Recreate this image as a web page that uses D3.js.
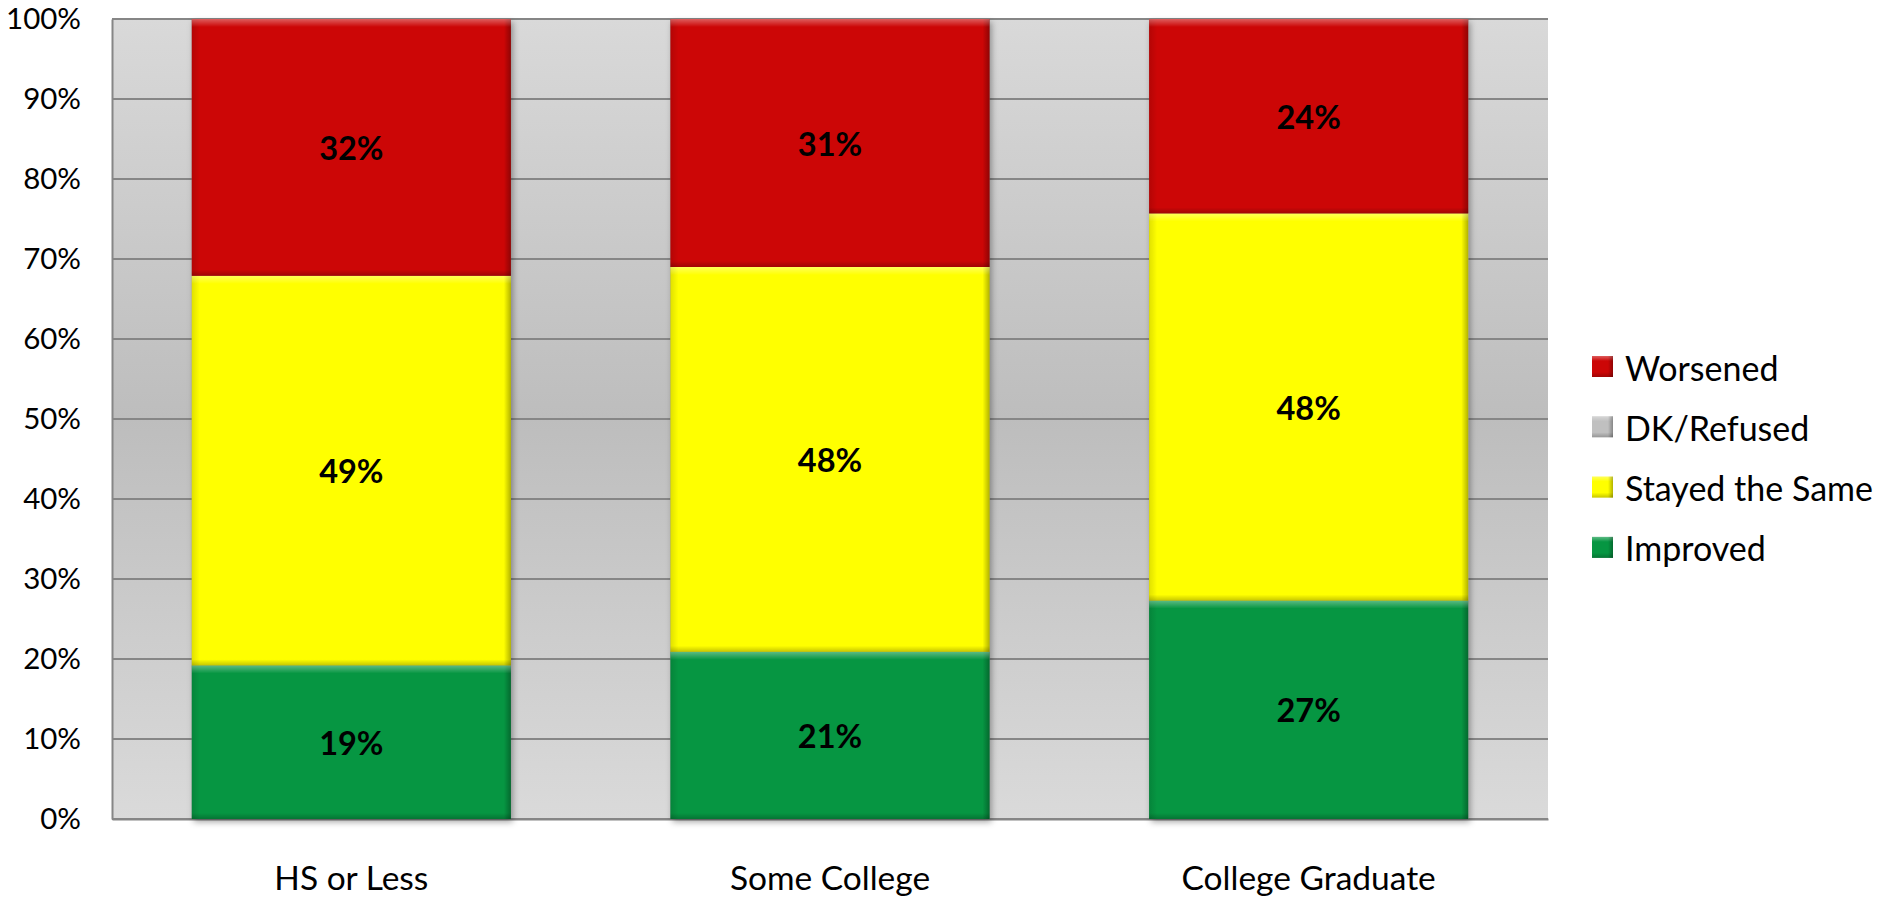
<!DOCTYPE html>
<html><head><meta charset="utf-8">
<script src="https://cdn.jsdelivr.net/npm/d3@7"></script>
<style>html,body{margin:0;padding:0;background:#fff;}svg{display:block;font-family:"Lato","Liberation Sans",sans-serif;}</style>
</head><body>
<svg id="chart" width="1879" height="898"></svg>
<script>
const categories = ["HS or Less", "Some College", "College Graduate"];
const seriesNames = ["Improved", "DK/Refused", "Stayed the Same", "Worsened"];
const improved = [19.2, 20.9, 27.3];
const dkRefused = [0, 0, 0];
const stayed = [48.7, 48.1, 48.4];
const worsened = [32.1, 31.0, 24.3];
const yTicks = [0, 10, 20, 30, 40, 50, 60, 70, 80, 90, 100];
const legendOrder = ["Worsened", "DK/Refused", "Stayed the Same", "Improved"];
const colors = {"Improved": "#069642", "DK/Refused": "#c0c0c0", "Stayed the Same": "#ffff00", "Worsened": "#cc0606"};

const rows = categories.map((c, i) => ({
  cat: c, "Improved": improved[i], "DK/Refused": dkRefused[i],
  "Stayed the Same": stayed[i], "Worsened": worsened[i]
}));

const svg = d3.select("#chart");
const m = {left: 112, top: 19, right: 1548, bottom: 819};
const x = d3.scaleBand().domain(categories).range([m.left, m.right]).paddingInner(1/3).paddingOuter(1/6);
const y = d3.scaleLinear().domain([0, 100]).range([m.bottom, m.top]);

const defs = svg.append("defs");
const bg = defs.append("linearGradient").attr("id", "bg").attr("x1", 0).attr("y1", 0).attr("x2", 0).attr("y2", 1);
bg.append("stop").attr("offset", "0%").attr("stop-color", "#d9d9d9");
bg.append("stop").attr("offset", "50%").attr("stop-color", "#bdbdbd");
bg.append("stop").attr("offset", "100%").attr("stop-color", "#dadada");

const gTop = defs.append("linearGradient").attr("id", "bTop").attr("x1", 0).attr("y1", 0).attr("x2", 0).attr("y2", 1);
gTop.append("stop").attr("offset", "0%").attr("stop-color", "#fff").attr("stop-opacity", 0.35);
gTop.append("stop").attr("offset", "100%").attr("stop-color", "#fff").attr("stop-opacity", 0);
const gRight = defs.append("linearGradient").attr("id", "bRight").attr("x1", 0).attr("y1", 0).attr("x2", 1).attr("y2", 0);
gRight.append("stop").attr("offset", "0%").attr("stop-color", "#000").attr("stop-opacity", 0);
gRight.append("stop").attr("offset", "100%").attr("stop-color", "#000").attr("stop-opacity", 0.3);
const gLeft = defs.append("linearGradient").attr("id", "bLeft").attr("x1", 0).attr("y1", 0).attr("x2", 1).attr("y2", 0);
gLeft.append("stop").attr("offset", "0%").attr("stop-color", "#000").attr("stop-opacity", 0.12);
gLeft.append("stop").attr("offset", "100%").attr("stop-color", "#000").attr("stop-opacity", 0);
const gBot = defs.append("linearGradient").attr("id", "bBot").attr("x1", 0).attr("y1", 0).attr("x2", 0).attr("y2", 1);
gBot.append("stop").attr("offset", "0%").attr("stop-color", "#000").attr("stop-opacity", 0);
gBot.append("stop").attr("offset", "100%").attr("stop-color", "#000").attr("stop-opacity", 0.22);
const sh = defs.append("filter").attr("id", "shadow").attr("x", "-5%").attr("y", "-5%").attr("width", "115%").attr("height", "115%");
sh.append("feDropShadow").attr("dx", 2).attr("dy", 3).attr("stdDeviation", 3).attr("flood-color", "#000").attr("flood-opacity", 0.35);

// plot background
svg.append("rect").attr("x", m.left).attr("y", m.top).attr("width", m.right - m.left).attr("height", m.bottom - m.top).attr("fill", "url(#bg)");

// gridlines
svg.append("g").selectAll("line").data(yTicks).join("line")
  .attr("x1", m.left).attr("x2", m.right)
  .attr("y1", d => y(d)).attr("y2", d => y(d))
  .attr("stroke", "#868686").attr("stroke-width", 2);

// y axis
const yAxis = svg.append("g").attr("transform", `translate(${m.left},0)`)
  .call(d3.axisLeft(y).tickValues(yTicks).tickFormat(d => d + "%").tickSize(0).tickPadding(31));
yAxis.select(".domain").attr("stroke", "#868686").attr("stroke-width", 2);
yAxis.selectAll("text").attr("font-size", 29.5).attr("fill", "#000").attr("font-family", "Lato, sans-serif");

// x axis labels
const xAxis = svg.append("g").attr("transform", `translate(0,${m.bottom})`)
  .call(d3.axisBottom(x).tickSize(0));
xAxis.select(".domain").attr("stroke", "#868686").attr("stroke-width", 2);
xAxis.selectAll("text").attr("font-size", 33.5).attr("fill", "#000").attr("font-family", "Lato, sans-serif")
  .attr("y", 71).attr("dy", 0);

// stacked bars
const stack = d3.stack().keys(seriesNames)(rows);
const bw = x.bandwidth();
const barsG = svg.append("g");
barsG.selectAll("rect.sh").data(categories).join("rect").attr("class", "sh")
  .attr("x", d => x(d)).attr("y", y(100)).attr("width", bw).attr("height", y(0) - y(100))
  .attr("fill", "#888").attr("filter", "url(#shadow)");

stack.forEach(s => {
  const g = barsG.append("g");
  const segs = s.filter(d => d[1] - d[0] > 0);
  const sel = g.selectAll("g").data(segs).join("g");
  sel.append("rect").attr("x", d => x(d.data.cat)).attr("y", d => y(d[1]))
    .attr("width", bw).attr("height", d => y(d[0]) - y(d[1])).attr("fill", colors[s.key]);
  sel.append("rect").attr("x", d => x(d.data.cat)).attr("y", d => y(d[1]))
    .attr("width", 8).attr("height", d => y(d[0]) - y(d[1])).attr("fill", "url(#bLeft)");
  sel.append("rect").attr("x", d => x(d.data.cat) + bw - 7).attr("y", d => y(d[1]))
    .attr("width", 7).attr("height", d => y(d[0]) - y(d[1])).attr("fill", "url(#bRight)");
  sel.append("rect").attr("x", d => x(d.data.cat)).attr("y", d => y(d[1]))
    .attr("width", bw).attr("height", 8).attr("fill", "url(#bTop)");
  sel.append("rect").attr("x", d => x(d.data.cat)).attr("y", d => y(d[0]) - 6)
    .attr("width", bw).attr("height", 6).attr("fill", "url(#bBot)");
  sel.append("text")
    .attr("x", d => x(d.data.cat) + bw / 2)
    .attr("y", d => (y(d[0]) + y(d[1])) / 2)
    .attr("text-anchor", "middle").attr("dominant-baseline", "central")
    .attr("font-size", 32.5).attr("font-weight", "bold").attr("fill", "#000")
    .attr("font-family", "Lato, sans-serif")
    .text(d => Math.round(d[1] - d[0]) + "%");
});

// legend
const lg = svg.append("g");
const items = lg.selectAll("g").data(legendOrder).join("g")
  .attr("transform", (d, i) => `translate(1592,${367 + i * 60.3})`);
items.append("rect").attr("x", 0).attr("y", -11).attr("width", 21).attr("height", 21).attr("fill", d => colors[d]);
items.append("rect").attr("x", 0).attr("y", -11).attr("width", 21).attr("height", 5).attr("fill", "url(#bTop)");
items.append("rect").attr("x", 16).attr("y", -11).attr("width", 5).attr("height", 21).attr("fill", "url(#bRight)");
items.append("rect").attr("x", 0).attr("y", 5).attr("width", 21).attr("height", 5).attr("fill", "url(#bBot)");
items.append("text").attr("x", 33).attr("y", 0).attr("dominant-baseline", "central")
  .attr("font-size", 34).attr("fill", "#000").attr("font-family", "Lato, sans-serif").text(d => d);
</script>
</body></html>
